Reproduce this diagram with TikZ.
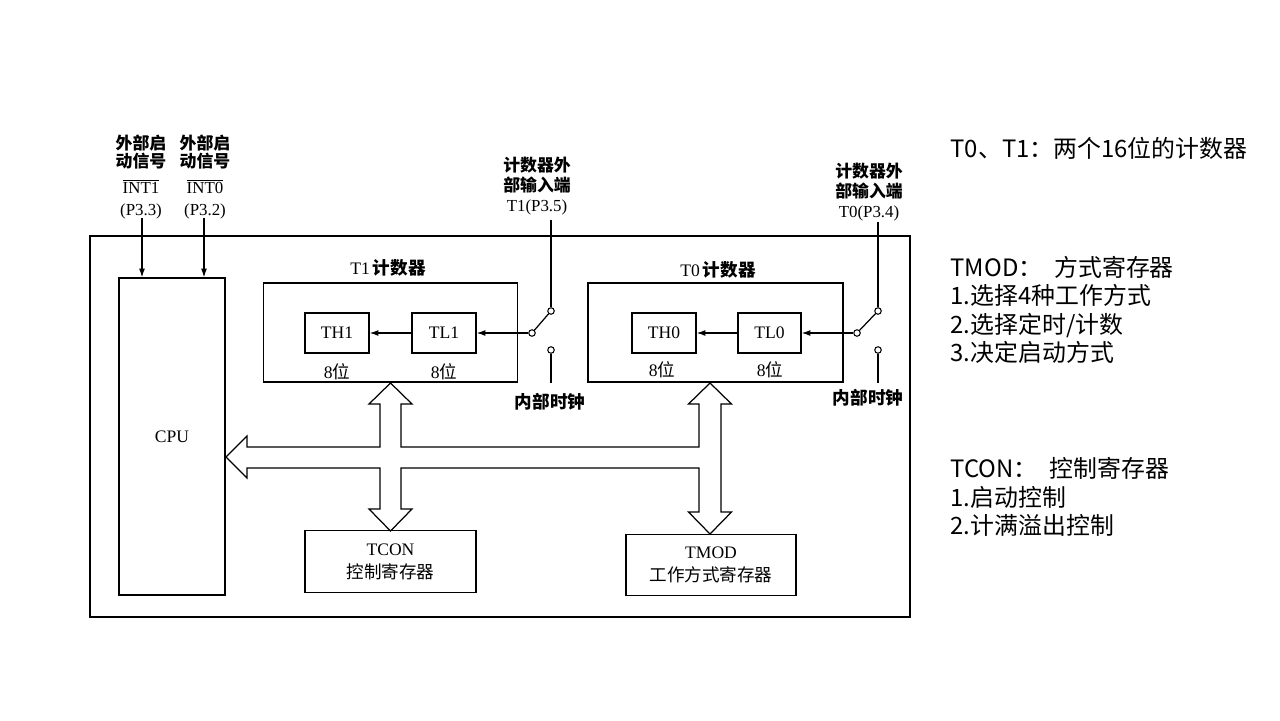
\documentclass[tikz,border=0pt]{standalone}
\usepackage{fontspec}
\setmainfont{Liberation Serif}
\newfontfamily\cjk{Noto Sans CJK SC}
\usetikzlibrary{arrows.meta}

\newcommand{\dgfont}{\fontsize{10pt}{11.5pt}\selectfont}
\newcommand{\notefont}{\cjk\fontsize{13.6pt}{16.2pt}\selectfont}

\begin{document}
\begin{tikzpicture}[x=0.02cm,y=-0.02cm,inner sep=0pt,line width=0.7pt,
    reg/.style={draw,minimum width=1.28cm,minimum height=0.8cm,font=\dgfont},
    cnt/.style={draw,minimum width=5.08cm,minimum height=1.98cm},
    sfr/.style={draw,minimum width=3.42cm,minimum height=1.23cm,align=center,
      font=\fontsize{10pt}{13pt}\selectfont},
    sw/.style={draw,circle,fill=white,minimum size=0.13cm,line width=0.6pt},
    sig/.style={-{Latex[length=5pt,width=3.4pt]}},
    pin/.style={align=center,anchor=south,font=\fontsize{9.6pt}{11.5pt}\selectfont\cjk\bfseries},
    note/.style={anchor=west,align=left,font=\notefont}]

  % ここまでをバウンディングボックス内とする
  \useasboundingbox (0,0) rectangle (1280,720);

  % 座標確認用グリッド
  %\draw[step=20,lightgray] (0,0) grid (1280,720);

  % 外枠
  \draw[line width=1pt] (90,236) rectangle (910,617);

  \node[draw,minimum width=2.12cm,minimum height=6.34cm,font=\dgfont]
    (cpu) at (172,436.5) {CPU};

  % 外部启动信号
  \node[pin] (int1lbl) at (141,220) {%
    外部启\\[-1pt]动信号\\[3.4pt]\rmfamily\mdseries$\overline{\hbox{INT1}}$\\[1pt]
    \rmfamily\mdseries(P3.3)};
  \node[pin] (int0lbl) at (205,220) {%
    外部启\\[-1pt]动信号\\[3.4pt]\rmfamily\mdseries$\overline{\hbox{INT0}}$\\[1pt]
    \rmfamily\mdseries(P3.2)};
  \coordinate (int1in) at (142,218);
  \coordinate (int0in) at (204,218);
  \draw[sig] (int1in) -- (int1in |- cpu.north);
  \draw[sig] (int0in) -- (int0in |- cpu.north);

  % T1计数器
  \node[cnt] (t1box) at (390.5,332.5) {};
  \node[font=\dgfont] (t1name) at (388,268) {T1\,{\cjk\bfseries 计数器}};
  \node[reg] (th1) at (337,333) {TH1};
  \node[reg] (tl1) at (444,333) {TL1};
  \node[font=\dgfont] (th1bit) at (337,372) {8{\cjk 位}};
  \node[font=\dgfont] (tl1bit) at (444,372) {8{\cjk 位}};
  \draw[sig] (tl1) -- (th1);

  \node[pin] (t1lbl) at (537,216) {%
    计数器外\\部输入端\\\rmfamily\mdseries T1(P3.5)};
  \node[sw] (sw1p) at (532,333) {};
  \node[sw] (sw1a) at (551,311) {};
  \node[sw] (sw1b) at (551,350) {};
  \coordinate (t1in) at (551,220);
  \coordinate (clk1) at (551,383);
  \draw (t1in) -- (sw1a);
  \draw (sw1p) -- (sw1a);
  \draw (sw1b) -- (clk1);
  \draw[sig] (sw1p) -- (tl1);
  \node[font=\dgfont\cjk\bfseries] (clk1lbl) at (550,402) {内部时钟};

  % T0计数器
  \node[cnt,minimum width=5.1cm] (t0box) at (715.5,332.5) {};
  \node[font=\dgfont] (t0name) at (718,270) {T0\,{\cjk\bfseries 计数器}};
  \node[reg] (th0) at (664,333) {TH0};
  \node[reg,minimum width=1.26cm] (tl0) at (769.5,333) {TL0};
  \node[font=\dgfont] (th0bit) at (662,370) {8{\cjk 位}};
  \node[font=\dgfont] (tl0bit) at (770,370) {8{\cjk 位}};
  \draw[sig] (tl0) -- (th0);

  \node[pin] (t0lbl) at (869,222) {%
    计数器外\\部输入端\\\rmfamily\mdseries T0(P3.4)};
  \node[sw] (sw0p) at (857,333) {};
  \node[sw] (sw0a) at (878,311) {};
  \node[sw] (sw0b) at (878,350) {};
  \coordinate (t0in) at (878,222);
  \coordinate (clk0) at (878,383);
  \draw (t0in) -- (sw0a);
  \draw (sw0p) -- (sw0a);
  \draw (sw0b) -- (clk0);
  \draw[sig] (sw0p) -- (tl0);
  \node[font=\dgfont\cjk\bfseries] (clk0lbl) at (868,398) {内部时钟};

  % 寄存器
  \node[sfr] (tcon) at (390.5,561.5) {TCON\\{\cjk 控制寄存器}};
  \node[sfr,minimum width=3.4cm] (tmod) at (711,565) {TMOD\\{\cjk 工作方式寄存器}};

  % 内部总线
  \draw[fill=white] (226,457) -- (247,436) -- (247,447) -- (380,447)
    -- (380,404) -- (369,404) -- (390.5,383) -- (412,404) -- (401,404)
    -- (401,447) -- (699,447) -- (699,404) -- (688.5,404) -- (710,383)
    -- (731.5,404) -- (721,404) -- (721,512) -- (731.5,512) -- (710,534)
    -- (688.5,512) -- (699,512) -- (699,468) -- (401,468) -- (401,509)
    -- (412,509) -- (390.5,531) -- (369,509) -- (380,509) -- (380,468)
    -- (247,468) -- (247,478) -- cycle;

  % 说明
  \node[note] (n1) at (950,148) {T0、T1：两个16位的计数器};
  \node[note] (n2) at (950,310) {TMOD：\hspace{0.5em}方式寄存器\\
    1.选择4种工作方式\\2.选择定时/计数\\3.决定启动方式};
  \node[note] (n3) at (950,497) {TCON：\hspace{0.5em}控制寄存器\\
    1.启动控制\\2.计满溢出控制};
\end{tikzpicture}
\end{document}
